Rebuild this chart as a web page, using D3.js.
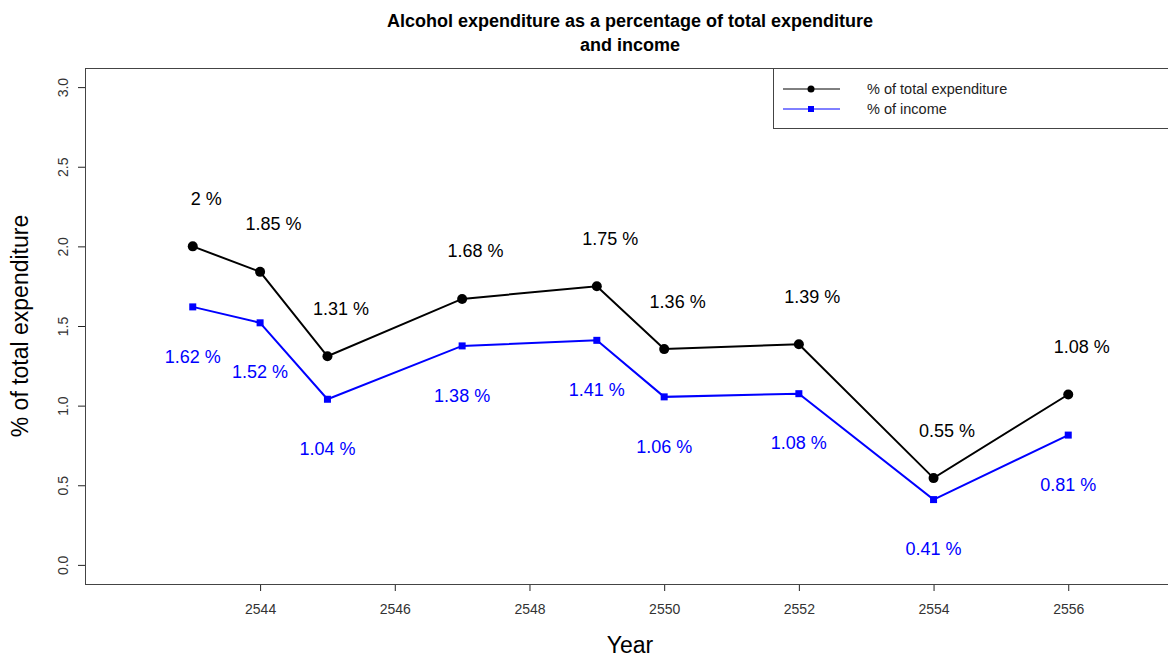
<!DOCTYPE html>
<html><head><meta charset="utf-8">
<script src="https://cdn.jsdelivr.net/npm/d3@7"></script>
<style>body{margin:0;background:#fff;}svg{display:block;font-family:Arial,"Liberation Sans",sans-serif;}</style>
</head><body>
<svg id="c" width="1168" height="657"></svg>
<script>
const years = [2543, 2544, 2545, 2547, 2549, 2550, 2552, 2554, 2556];
const expenditure = [2.00, 1.84, 1.31, 1.67, 1.75, 1.355, 1.385, 0.545, 1.07];
const expLabels = ["2 %", "1.85 %", "1.31 %", "1.68 %", "1.75 %", "1.36 %", "1.39 %", "0.55 %", "1.08 %"];
const income = [1.62, 1.52, 1.04, 1.375, 1.41, 1.055, 1.075, 0.41, 0.815];
const incLabels = ["1.62 %", "1.52 %", "1.04 %", "1.38 %", "1.41 %", "1.06 %", "1.08 %", "0.41 %", "0.81 %"];
const xTicks = [2544, 2546, 2548, 2550, 2552, 2554, 2556];
const yTicks = [0, 0.5, 1, 1.5, 2, 2.5, 3];
const seriesNames = ["% of total expenditure", "% of income"];

const svg = d3.select("#c");
const x = d3.scaleLinear().domain([2541.4, 2557.6]).range([85, 1176]);
const y = d3.scaleLinear().domain([-0.12, 3.12]).range([584, 68]);

// title
svg.append("text").attr("x", 630).attr("y", 27).attr("text-anchor", "middle")
  .attr("font-weight", "bold").attr("font-size", 18).text("Alcohol expenditure as a percentage of total expenditure");
svg.append("text").attr("x", 630).attr("y", 51).attr("text-anchor", "middle")
  .attr("font-weight", "bold").attr("font-size", 18).text("and income");

// axes
const xAxis = svg.append("g").attr("transform", "translate(0,584)")
  .call(d3.axisBottom(x).tickValues(xTicks).tickSize(7).tickPadding(13).tickFormat(d3.format("d")));
xAxis.select(".domain").remove();
xAxis.selectAll("line").attr("stroke", "#222");
xAxis.selectAll("text").attr("font-size", 14).attr("fill", "#333").attr("font-family", "Arial, Liberation Sans, sans-serif");

const yAxis = svg.append("g").attr("transform", "translate(85,0)")
  .call(d3.axisLeft(y).tickValues(yTicks).tickSize(7).tickFormat(d3.format(".1f")));
yAxis.select(".domain").remove();
yAxis.selectAll("line").attr("stroke", "#222");
yAxis.selectAll("text").attr("font-size", 14).attr("fill", "#333").attr("font-family", "Arial, Liberation Sans, sans-serif")
  .attr("x", null).attr("dy", null).attr("text-anchor", "middle")
  .attr("transform", "translate(-17,0) rotate(-90)");

// plot frame
svg.append("rect").attr("x", 85.5).attr("y", 68.5).attr("width", 1176 - 85).attr("height", 584 - 68)
  .attr("fill", "none").attr("stroke", "#444").attr("stroke-width", 1);

// axis titles
svg.append("text").attr("x", 630).attr("y", 653).attr("text-anchor", "middle").attr("font-size", 23).text("Year");
svg.append("text").attr("transform", "translate(28,326) rotate(-90)").attr("text-anchor", "middle")
  .attr("font-size", 23).text("% of total expenditure");

const line = d3.line().x(d => x(d[0])).y(d => y(d[1]));
const expData = years.map((yr, i) => [yr, expenditure[i]]);
const incData = years.map((yr, i) => [yr, income[i]]);

svg.append("path").datum(expData).attr("d", line).attr("fill", "none").attr("stroke", "#000").attr("stroke-width", 2);
svg.append("path").datum(incData).attr("d", line).attr("fill", "none").attr("stroke", "#0000ff").attr("stroke-width", 2);

svg.selectAll(".pe").data(expData).enter().append("circle")
  .attr("cx", d => x(d[0])).attr("cy", d => y(d[1])).attr("r", 5).attr("fill", "#000");
svg.selectAll(".pi").data(incData).enter().append("rect")
  .attr("x", d => x(d[0]) - 3.5).attr("y", d => y(d[1]) - 3.5).attr("width", 7).attr("height", 7).attr("fill", "#0000ff");

// value labels
svg.selectAll(".le").data(expData).enter().append("text")
  .attr("x", d => x(d[0] + 0.2)).attr("y", d => y(d[1] + 0.3)).attr("dy", "0.35em")
  .attr("text-anchor", "middle").attr("font-size", 18).attr("fill", "#000")
  .text((d, i) => expLabels[i]);
svg.selectAll(".li").data(incData).enter().append("text")
  .attr("x", d => x(d[0])).attr("y", d => y(d[1] - 0.31)).attr("dy", "0.35em")
  .attr("text-anchor", "middle").attr("font-size", 18).attr("fill", "#0000ff")
  .text((d, i) => incLabels[i]);

// legend
const lg = svg.append("g");
lg.append("rect").attr("x", 773.5).attr("y", 68.5).attr("width", 420).attr("height", 60)
  .attr("fill", "#fff").attr("stroke", "#444");
const lgColors = ["#000", "#0000ff"];
seriesNames.forEach((name, i) => {
  const ly = 89 + i * 20;
  lg.append("line").attr("x1", 783).attr("x2", 840).attr("y1", ly).attr("y2", ly).attr("stroke", lgColors[i]).attr("stroke-width", 1);
  if (i === 0) lg.append("circle").attr("cx", 811).attr("cy", ly).attr("r", 3.5).attr("fill", "#000");
  else lg.append("rect").attr("x", 808).attr("y", ly - 3).attr("width", 6).attr("height", 6).attr("fill", "#0000ff");
  lg.append("text").attr("x", 867).attr("y", ly).attr("dy", "0.35em").attr("font-size", 14.5).attr("fill", "#222").text(name);
});
</script>
</body></html>
